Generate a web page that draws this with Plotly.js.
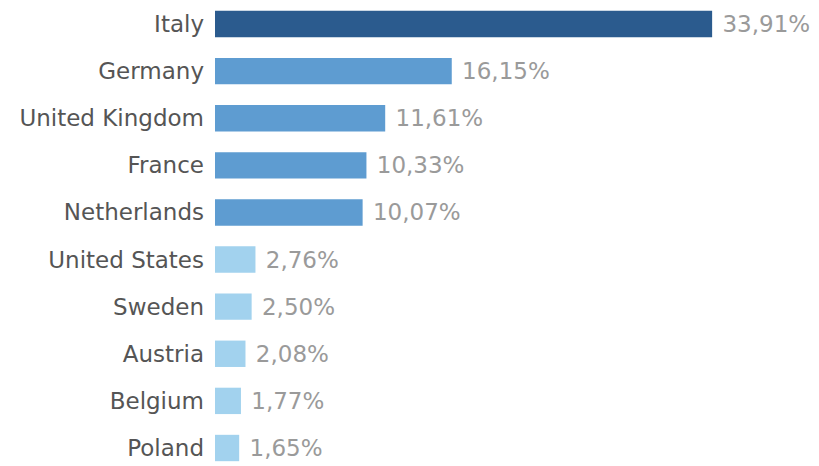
<!DOCTYPE html>
<html><head><meta charset="utf-8">
<script src="https://cdn.plot.ly/plotly-3.0.1.min.js"></script>
<style>html,body{margin:0;padding:0;background:#fff;}#chart{width:819px;height:466px;}</style>
</head><body><div id="chart"></div>
<script>
const countries = ["Italy","Germany","United Kingdom","France","Netherlands","United States","Sweden","Austria","Belgium","Poland"];
const shares = [33.91,16.15,11.61,10.33,10.07,2.76,2.50,2.08,1.77,1.65];
const barColors = ["#2b5b8e","#5e9cd1","#5e9cd1","#5e9cd1","#5e9cd1","#a2d2ee","#a2d2ee","#a2d2ee","#a2d2ee","#a2d2ee"];

Plotly.newPlot("chart", [{
  type: "bar", orientation: "h",
  x: shares, y: countries,
  marker: {color: barColors},
  texttemplate: " %{x:.2f}%",
  textposition: "outside",
  cliponaxis: false,
  textfont: {family: "DejaVu Sans", size: 23, color: "#9a9a9a"},
  hoverinfo: "none"
}], {
  width: 819, height: 466,
  margin: {l: 215, r: 0, t: 0, b: 0},
  separators: ",.",
  bargap: 0.44,
  showlegend: false,
  paper_bgcolor: "#fff", plot_bgcolor: "#fff",
  xaxis: {range: [0, 41.2], visible: false, fixedrange: true},
  yaxis: {
    type: "category",
    range: [9.382, -0.509],
    showgrid: false, zeroline: false, showline: false,
    ticks: "", ticklabelstandoff: 10,
    tickfont: {family: "DejaVu Sans", size: 23, color: "#555"}
  }
}, {staticPlot: true});
</script></body></html>
